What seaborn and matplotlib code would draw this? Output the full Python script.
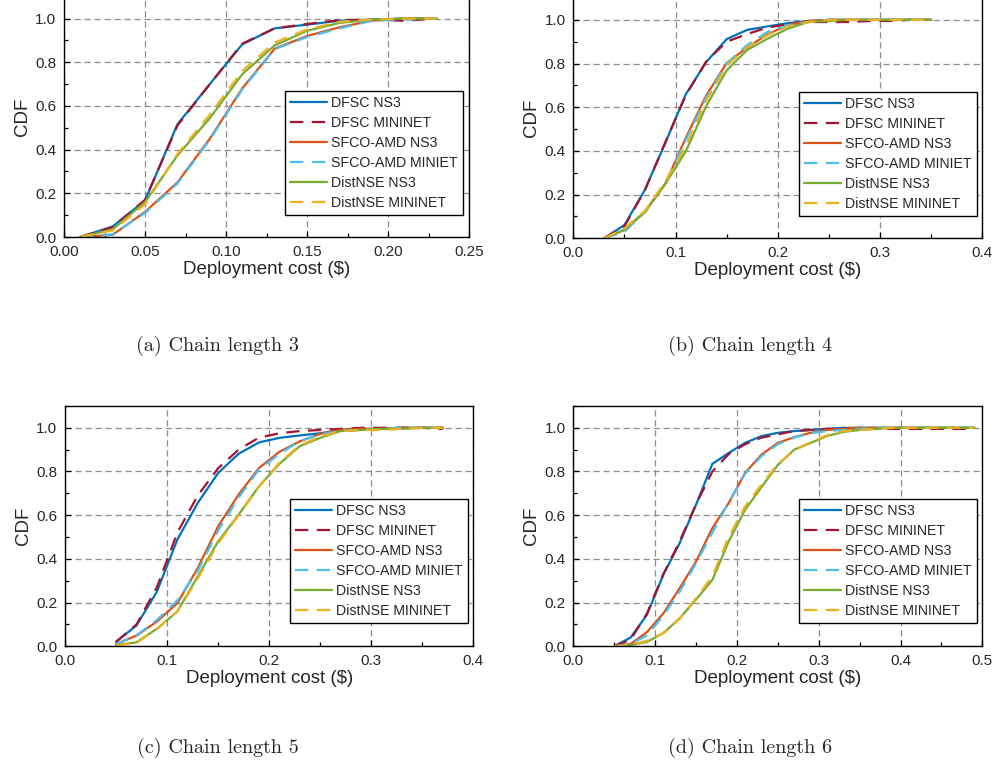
import matplotlib
matplotlib.use("Agg")
import matplotlib.pyplot as plt
import seaborn as sns
import pandas as pd
from matplotlib.ticker import MultipleLocator, FormatStrFormatter

# ---------------- data ----------------
series_names = ["DFSC NS3", "DFSC MININET", "SFCO-AMD NS3",
                "SFCO-AMD MINIET", "DistNSE NS3", "DistNSE MININET"]
series_colors = ["#0072BD", "#A2142F", "#D95319", "#4DBEEE", "#77AC30", "#EDB120"]
series_dashed = [False, True, False, True, False, True]
captions = ["(a) Chain length 3", "(b) Chain length 4",
            "(c) Chain length 5", "(d) Chain length 6"]

# (a) chain length 3
x_a = [0.01, 0.03, 0.05, 0.07, 0.09, 0.11, 0.13, 0.15, 0.17, 0.19, 0.21, 0.23]
dfsc_ns3_a = [0, 0.048, 0.167, 0.516, 0.70, 0.882, 0.955, 0.972, 0.99, 0.995, 1.0, 1.0]
dfsc_mn_a = [0, 0.045, 0.17, 0.51, 0.70, 0.885, 0.955, 0.975, 0.993, 0.995, 0.99, 1.0]
sfco_ns3_a = [0, 0.01, 0.115, 0.25, 0.45, 0.68, 0.862, 0.92, 0.96, 0.99, 1.0, 1.0]
sfco_mn_a = [0, 0.012, 0.11, 0.245, 0.445, 0.675, 0.86, 0.915, 0.955, 0.99, 0.995, 1.0]
dist_ns3_a = [0, 0.035, 0.16, 0.373, 0.544, 0.745, 0.877, 0.944, 0.98, 0.995, 1.0, 1.0]
dist_mn_a = [0, 0.03, 0.15, 0.38, 0.56, 0.76, 0.89, 0.95, 0.985, 0.995, 1.0, 1.0]

# (b) chain length 4
x_b = [0.03, 0.05, 0.07, 0.09, 0.11, 0.13, 0.15, 0.17, 0.19, 0.21, 0.23,
       0.25, 0.27, 0.29, 0.31, 0.33, 0.35]
dfsc_ns3_b = [0, 0.061, 0.222, 0.437, 0.659, 0.807, 0.912, 0.954, 0.97, 0.985, 0.995,
              1.0, 1.0, 1.0, 1.0, 1.0, 1.0]
dfsc_mn_b = [0, 0.055, 0.22, 0.44, 0.655, 0.81, 0.90, 0.935, 0.965, 0.98, 0.99,
             0.99, 0.99, 0.995, 0.995, 1.0, 1.0]
sfco_ns3_b = [0, 0.038, 0.122, 0.25, 0.46, 0.654, 0.803, 0.873, 0.934, 0.976, 0.995,
              1.0, 1.0, 1.0, 1.0, 1.0, 1.0]
sfco_mn_b = [0, 0.03, 0.12, 0.25, 0.45, 0.645, 0.80, 0.885, 0.945, 0.975, 0.99,
             1.0, 1.0, 1.0, 1.0, 1.0, 1.0]
dist_ns3_b = [0, 0.04, 0.12, 0.25, 0.398, 0.605, 0.769, 0.862, 0.914, 0.96, 0.99,
              0.995, 1.0, 1.0, 1.0, 1.0, 1.0]
dist_mn_b = [0, 0.045, 0.125, 0.26, 0.42, 0.63, 0.79, 0.875, 0.93, 0.97, 0.99,
             1.0, 1.0, 1.0, 1.0, 1.0, 1.0]

# (c) chain length 5
x_c = [0.05, 0.07, 0.09, 0.11, 0.13, 0.15, 0.17, 0.19, 0.21, 0.23, 0.25,
       0.27, 0.29, 0.31, 0.33, 0.35, 0.37]
dfsc_ns3_c = [0.021, 0.095, 0.25, 0.488, 0.656, 0.793, 0.881, 0.933, 0.954, 0.965, 0.975,
              0.99, 0.995, 0.995, 1.0, 1.0, 1.0]
dfsc_mn_c = [0.02, 0.10, 0.27, 0.52, 0.69, 0.815, 0.90, 0.955, 0.975, 0.985, 0.99,
             0.995, 1.0, 1.0, 1.0, 1.0, 0.995]
sfco_ns3_c = [0.01, 0.049, 0.113, 0.197, 0.358, 0.549, 0.694, 0.816, 0.89, 0.938, 0.972,
              0.99, 0.995, 0.995, 1.0, 1.0, 1.0]
sfco_mn_c = [0.01, 0.05, 0.12, 0.21, 0.345, 0.53, 0.68, 0.81, 0.88, 0.94, 0.97,
             0.985, 0.99, 0.995, 1.0, 1.0, 1.0]
dist_ns3_c = [0.005, 0.018, 0.08, 0.159, 0.32, 0.48, 0.602, 0.732, 0.835, 0.916, 0.954,
              0.985, 0.99, 0.995, 0.995, 1.0, 1.0]
dist_mn_c = [0.005, 0.015, 0.08, 0.16, 0.31, 0.47, 0.60, 0.73, 0.84, 0.92, 0.96,
             0.985, 0.99, 0.99, 0.995, 1.0, 1.0]

# (d) chain length 6
x_d = [0.05, 0.07, 0.09, 0.11, 0.13, 0.15, 0.17, 0.19, 0.21, 0.23, 0.25, 0.27,
       0.29, 0.31, 0.33, 0.35, 0.37, 0.39, 0.41, 0.43, 0.45, 0.47, 0.49]
dfsc_ns3_d = [0, 0.04, 0.144, 0.327, 0.472, 0.648, 0.835, 0.885, 0.931, 0.962, 0.977, 0.985,
              0.99, 0.995, 1.0, 1.0, 1.0, 1.0, 1.0, 1.0, 1.0, 1.0, 1.0]
dfsc_mn_d = [0, 0.03, 0.15, 0.33, 0.48, 0.65, 0.80, 0.88, 0.925, 0.955, 0.97, 0.985,
             0.99, 0.995, 0.995, 1.0, 0.995, 0.995, 0.995, 0.995, 0.995, 0.995, 0.995]
sfco_ns3_d = [0, 0.01, 0.065, 0.15, 0.266, 0.388, 0.541, 0.656, 0.794, 0.877, 0.931, 0.957,
              0.977, 0.99, 0.995, 1.0, 1.0, 1.0, 1.0, 1.0, 1.0, 1.0, 1.0]
sfco_mn_d = [0, 0.01, 0.05, 0.14, 0.25, 0.38, 0.52, 0.66, 0.79, 0.87, 0.925, 0.955,
             0.975, 0.985, 0.99, 0.995, 1.0, 1.0, 1.0, 1.0, 1.0, 1.0, 1.0]
dist_ns3_d = [0, 0.005, 0.02, 0.06, 0.128, 0.214, 0.304, 0.48, 0.625, 0.728, 0.83, 0.90,
              0.931, 0.962, 0.981, 0.99, 0.995, 1.0, 1.0, 1.0, 1.0, 1.0, 1.0]
dist_mn_d = [0, 0.005, 0.025, 0.06, 0.125, 0.22, 0.32, 0.50, 0.64, 0.74, 0.835, 0.895,
             0.935, 0.965, 0.985, 0.99, 0.995, 1.0, 1.0, 1.0, 1.0, 1.0, 1.0]

panels = [
    (x_a, [dfsc_ns3_a, dfsc_mn_a, sfco_ns3_a, sfco_mn_a, dist_ns3_a, dist_mn_a]),
    (x_b, [dfsc_ns3_b, dfsc_mn_b, sfco_ns3_b, sfco_mn_b, dist_ns3_b, dist_mn_b]),
    (x_c, [dfsc_ns3_c, dfsc_mn_c, sfco_ns3_c, sfco_mn_c, dist_ns3_c, dist_mn_c]),
    (x_d, [dfsc_ns3_d, dfsc_mn_d, sfco_ns3_d, sfco_mn_d, dist_ns3_d, dist_mn_d]),
]
x_limits = [0.25, 0.4, 0.4, 0.5]
x_major = [0.05, 0.1, 0.1, 0.1]
x_fmt = ["%.2f", "%.1f", "%.1f", "%.1f"]

# ---------------- style ----------------
sns.set_style("ticks")
plt.rcParams["font.family"] = ["Liberation Sans", "DejaVu Sans"]

fig = plt.figure(figsize=(9.99, 7.69), dpi=100)
positions = [
    [0.0641, 0.6918, 0.4054, 0.3125],
    [0.5739, 0.6901, 0.4094, 0.3125],
    [0.0651, 0.1596, 0.4087, 0.3125],
    [0.5739, 0.1596, 0.4094, 0.3125],
]
legend_anchor = [(0.985, 0.093), (0.987, 0.094), (0.987, 0.097), (0.987, 0.097)]
caption_pos = [(0.218, 0.550), (0.751, 0.550), (0.218, 0.027), (0.751, 0.027)]

for i, (xs, ys_list) in enumerate(panels):
    ax = fig.add_axes(positions[i])
    for name, ys, col, dsh in zip(series_names, ys_list, series_colors, series_dashed):
        df = pd.DataFrame({"cost": xs, "cdf": ys})
        sns.lineplot(data=df, x="cost", y="cdf", ax=ax, color=col, label=name,
                     linewidth=1.6, linestyle=(0, (6, 3.8)) if dsh else "-",
                     estimator=None, sort=False)
    ax.set_xlim(0, x_limits[i])
    ax.set_ylim(0, 1.1)
    ax.xaxis.set_major_locator(MultipleLocator(x_major[i]))
    ax.xaxis.set_minor_locator(MultipleLocator(x_major[i] / 2))
    ax.xaxis.set_major_formatter(FormatStrFormatter(x_fmt[i]))
    ax.yaxis.set_major_locator(MultipleLocator(0.2))
    ax.yaxis.set_minor_locator(MultipleLocator(0.1))
    ax.yaxis.set_major_formatter(FormatStrFormatter("%.1f"))
    ax.tick_params(which="both", direction="in", top=False, right=False,
                   labelsize=11, color="black", width=0.9)
    ax.tick_params(which="major", length=4, pad=5.5)
    ax.tick_params(which="minor", length=3)
    ax.grid(True, which="major", color="#8c8c8c", linestyle=(0, (5, 3)), linewidth=0.9)
    ax.set_axisbelow(True)
    for sp in ax.spines.values():
        sp.set_color("black")
        sp.set_linewidth(1.0)
        sp.set_visible(True)
    ax.set_xlabel("Deployment cost ($)", fontsize=13.5, labelpad=1.5)
    ax.set_ylabel("CDF", fontsize=13.5, labelpad=3)
    handles, labels = ax.get_legend_handles_labels()
    leg = ax.legend(handles, labels, loc="lower right", bbox_to_anchor=legend_anchor[i],
                    borderaxespad=0, frameon=True, fancybox=False, framealpha=1,
                    edgecolor="black", fontsize=10.2, handlelength=2.6,
                    handletextpad=0.3, labelspacing=0.42, borderpad=0.35)
    leg.get_frame().set_linewidth(1.0)
    fig.text(caption_pos[i][0], caption_pos[i][1], captions[i], ha="center", va="center",
             fontsize=14.5, fontfamily="cmr10")

fig.savefig("out.png", dpi=100)
